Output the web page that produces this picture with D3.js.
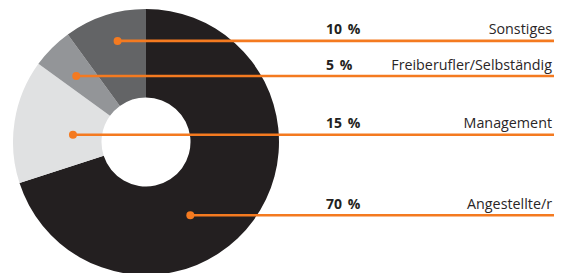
<!DOCTYPE html>
<html><head><meta charset="utf-8">
<script src="https://cdn.jsdelivr.net/npm/d3@7"></script>
<style>body{margin:0;background:#fff}svg{display:block}</style>
</head><body>
<script>
const categories = ["Angestellte/r", "Management", "Freiberufler/Selbständig", "Sonstiges"];
const values = [70, 15, 5, 10];
const percentLabels = ["70 %", "15 %", "5 %", "10 %"];
const colors = ["#231f20", "#e0e1e2", "#939598", "#636466"];
// anchor of each callout dot: angle (deg, clockwise from top) and radius
const anchorAngle = [148.8, 275.7, 313.4, 344.3];
const anchorRadius = [85.6, 73.4, 96, 105];

const W = 566, H = 273;
const cx = 146, cy = 142, rOuter = 133, rInner = 44.5;
const lineEnd = 554, pctX = 326, labelRight = 552;

const svg = d3.select("body").append("svg").attr("width", W).attr("height", H);
const g = svg.append("g").attr("transform", `translate(${cx},${cy})`);

const pie = d3.pie().sort(null).value(d => d)(values);
const arc = d3.arc().innerRadius(rInner).outerRadius(rOuter);
g.selectAll("path").data(pie).join("path")
  .attr("d", arc).attr("fill", (d, i) => colors[i]);

const pts = values.map((v, i) => {
  const a = anchorAngle[i] * Math.PI / 180;
  return [cx + anchorRadius[i] * Math.sin(a), cy - anchorRadius[i] * Math.cos(a)];
});
const orange = "#f47a20";
svg.selectAll("line.callout").data(pts).join("line").attr("class", "callout")
  .attr("x1", d => d[0]).attr("y1", d => d[1]).attr("x2", lineEnd).attr("y2", d => d[1])
  .attr("stroke", orange).attr("stroke-width", 2.6);
svg.selectAll("circle.dot").data(pts).join("circle").attr("class", "dot")
  .attr("cx", d => d[0]).attr("cy", d => d[1]).attr("r", 4).attr("fill", orange);

const font = "'Open Sans', sans-serif";
svg.selectAll("text.pct").data(pts).join("text").attr("class", "pct")
  .attr("x", pctX).attr("y", d => d[1] - 6.5)
  .attr("font-family", font).attr("font-size", 14).attr("font-weight", "bold")
  .attr("word-spacing", 2)
  .attr("fill", "#231f20").text((d, i) => percentLabels[i]);
svg.selectAll("text.lbl").data(pts).join("text").attr("class", "lbl")
  .attr("x", labelRight).attr("y", d => d[1] - 6.5).attr("text-anchor", "end")
  .attr("font-family", font).attr("font-size", 14.3)
  .attr("fill", "#2a2627").text((d, i) => categories[i]);
</script>
</body></html>
